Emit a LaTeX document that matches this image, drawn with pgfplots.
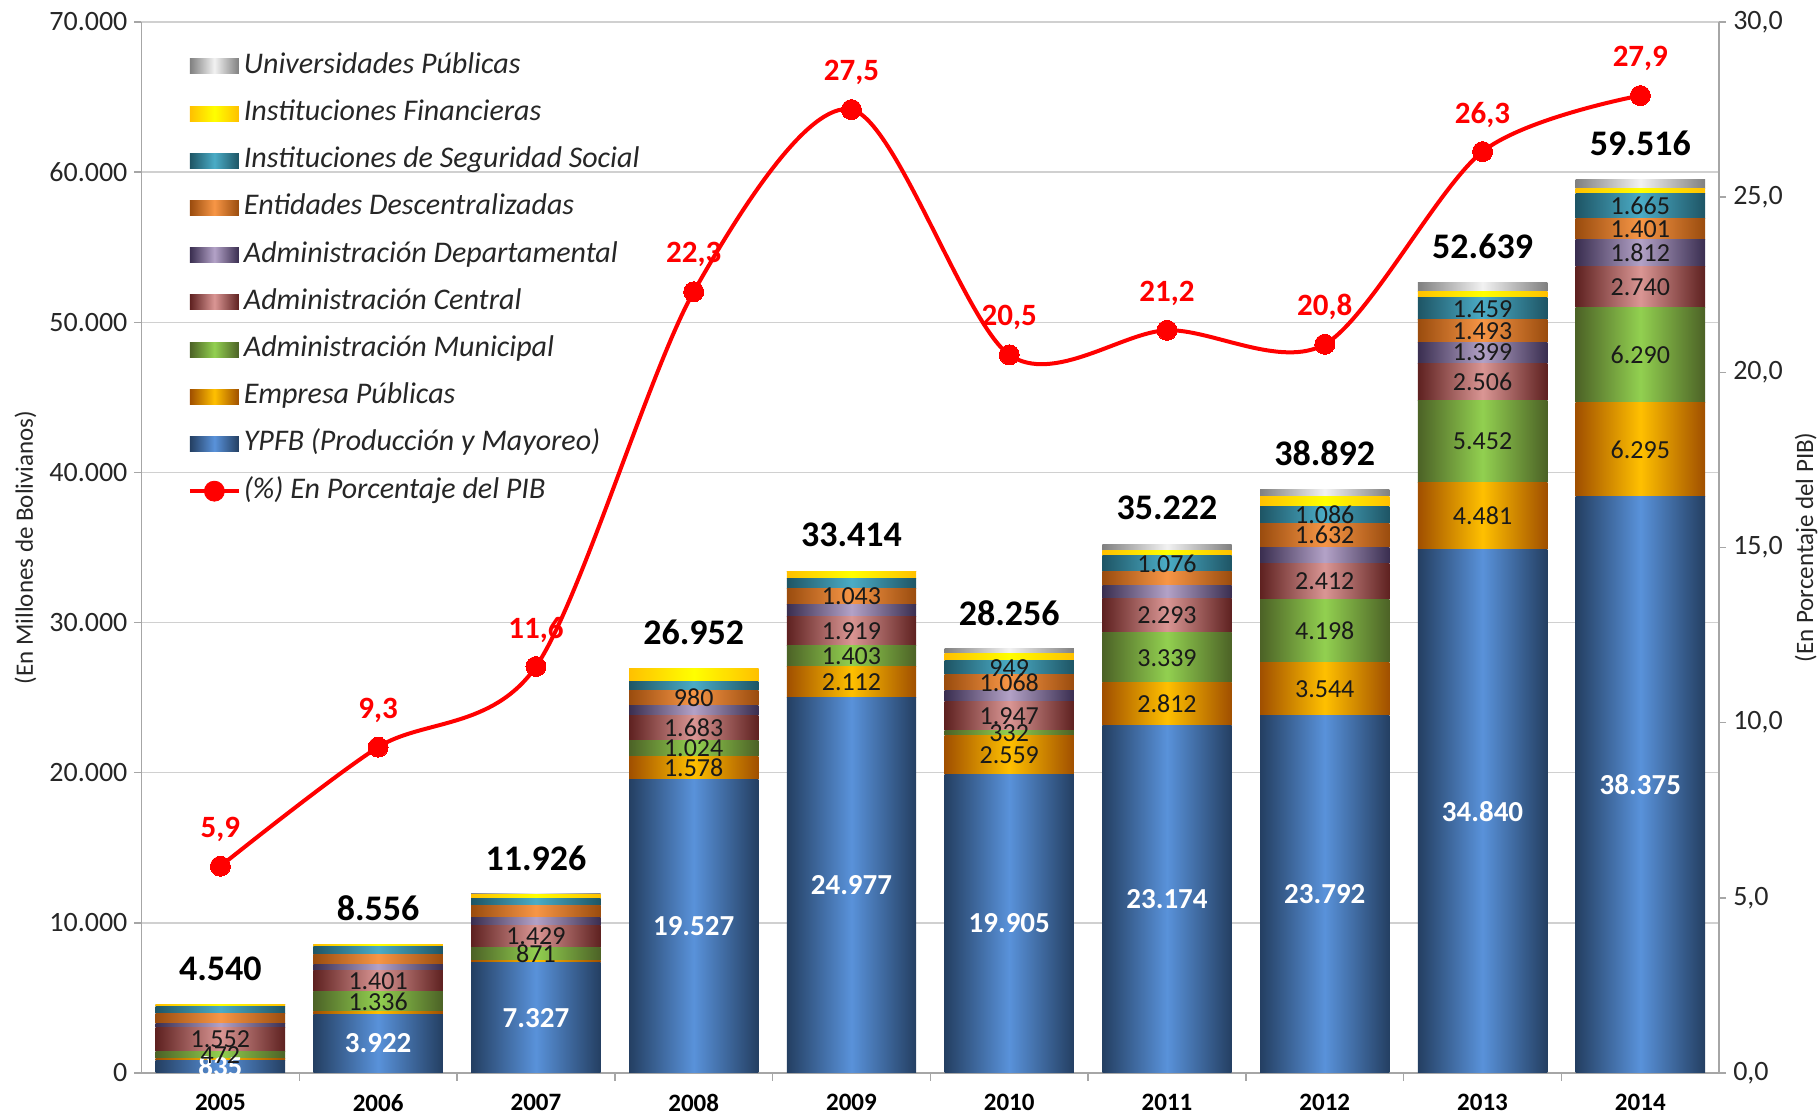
\documentclass[border=0pt]{standalone}
\usepackage{fontspec}
\setmainfont{Carlito}
\usepackage{pgfplots}
\usepackage{pgfplotstable}
\pgfplotsset{compat=1.18}

\definecolor{ypD}{HTML}{243F62}
\definecolor{ypL}{HTML}{5992DA}
\definecolor{emD}{HTML}{A04F00}
\definecolor{emL}{HTML}{FFC000}
\definecolor{muD}{HTML}{4C6226}
\definecolor{muL}{HTML}{92D050}
\definecolor{ceD}{HTML}{5E2120}
\definecolor{ceL}{HTML}{DA9694}
\definecolor{deD}{HTML}{3A2E50}
\definecolor{deL}{HTML}{B3A2C7}
\definecolor{enD}{HTML}{9A4C0E}
\definecolor{enL}{HTML}{F79646}
\definecolor{seD}{HTML}{1E5565}
\definecolor{seL}{HTML}{4BACC6}
\definecolor{fiD}{HTML}{FFC000}
\definecolor{fiL}{HTML}{FFFF00}
\definecolor{unD}{HTML}{808080}
\definecolor{unL}{HTML}{F2F2F2}
\definecolor{gridc}{HTML}{D0D0D0}
\definecolor{axc}{HTML}{A6A6A6}
\definecolor{txt}{HTML}{262626}
\definecolor{lblc}{HTML}{1A1A1A}

\newcommand\AxW{788.9pt}
\newcommand\AxH{525.5pt}

\pgfplotsset{
  /pgf/number format/assume math mode=true,
  grad/.style n args={2}{draw=none, left color=#1, right color=#1, middle color=#2},
  sw/.style n args={2}{legend image code/.code={\path[draw=none, left color=#1, right color=#1, middle color=#2] (0pt,-3.75pt) rectangle (24.5pt,3.75pt);}},
  common/.style={scale only axis, width=\AxW, height=\AxH, xmin=-0.5, xmax=9.5, ymin=0, ymax=70000},
}

\pgfplotstableread{
x ypfb emp mun cen dep ent seg fin uni
0 835 150 472 1552 290 640 470 116 15
1 3922 160 1336 1401 390 700 500 132 15
2 7327 170 871 1429 560 790 490 274 15
3 19527 1578 1024 1683 690 980 570 885 15
4 24977 2112 1403 1919 800 1043 690 455 15
5 19905 2559 332 1947 700 1068 949 466 330
6 23174 2812 3339 2293 880 880 1076 330 438
7 23792 3544 4198 2412 1050 1632 1086 665 513
8 34840 4481 5452 2506 1399 1493 1459 409 600
9 38375 6295 6290 2740 1812 1401 1665 340 598
}\bars

\begin{document}
\begin{tikzpicture}
% frame, grid, ticks and legend
\begin{axis}[
  common,
  xtick={0,...,9},
  xticklabels={2005,2006,2007,2008,2009,2010,2011,2012,2013,2014},
  minor xtick={0.5,1.5,...,8.5},
  major x tick style={draw=none},
  minor tick length=4pt, major tick length=3.5pt,
  tick align=outside,
  tick style={axc, line width=0.75pt},
  axis x line*=bottom, axis y line*=left,
  axis line style={axc, line width=0.75pt},
  ytick={0,10000,...,70000},
  scaled y ticks=false,
  yticklabel style={font=\fontsize{14}{16}\selectfont, text=txt, /pgf/number format/1000 sep={.}, /pgf/number format/fixed},
  xticklabel style={font=\fontsize{12.5}{14}\selectfont\bfseries, text=black, yshift=-3.5pt},
  ymajorgrids, major grid style={gridc, line width=0.75pt},
  ylabel={(En Millones de Bolivianos)},
  every axis y label/.style={at={(axis description cs:-0.0735,0.5)}, rotate=90, anchor=center, font=\fontsize{12.5}{14}\selectfont, text=txt},
  reverse legend,
  legend cell align=left,
  legend style={at={(0,1)}, anchor=north west, xshift=23pt, yshift=-14pt, draw=none, fill=none,
    font=\fontsize{15}{16}\selectfont\itshape, row sep=7.6pt, inner sep=0pt,
    nodes={inner sep=1.5pt, text height=10pt, text depth=3pt, text=txt}},
]
\coordinate (bbsw) at (rel axis cs:0,0);
\coordinate (bbne) at (rel axis cs:1,1);
\addlegendimage{legend image code/.code={\draw[red, line width=2pt] (0pt,0pt) -- (24.5pt,0pt); \fill[red] (12.25pt,0pt) circle (5pt);}}
\addlegendentry{(\%) En Porcentaje del PIB}
\addlegendimage{sw={ypD}{ypL}}
\addlegendentry{YPFB (Producción y Mayoreo)}
\addlegendimage{sw={emD}{emL}}
\addlegendentry{Empresa Públicas}
\addlegendimage{sw={muD}{muL}}
\addlegendentry{Administración Municipal}
\addlegendimage{sw={ceD}{ceL}}
\addlegendentry{Administración Central}
\addlegendimage{sw={deD}{deL}}
\addlegendentry{Administración Departamental}
\addlegendimage{sw={enD}{enL}}
\addlegendentry{Entidades Descentralizadas}
\addlegendimage{sw={seD}{seL}}
\addlegendentry{Instituciones de Seguridad Social}
\addlegendimage{sw={fiD}{fiL}}
\addlegendentry{Instituciones Financieras}
\addlegendimage{sw={unD}{unL}}
\addlegendentry{Universidades Públicas}
\end{axis}

% stacked bars, one axis per year so each bar gets its own gradient
\pgfplotsinvokeforeach{0,...,9}{
\begin{axis}[common, hide axis, ybar stacked, bar width=0.82, restrict x to domain=#1:#1]
\addplot[grad={ypD}{ypL}] table[x=x, y=ypfb]{\bars};
\addplot[grad={emD}{emL}] table[x=x, y=emp]{\bars};
\addplot[grad={muD}{muL}] table[x=x, y=mun]{\bars};
\addplot[grad={ceD}{ceL}] table[x=x, y=cen]{\bars};
\addplot[grad={deD}{deL}] table[x=x, y=dep]{\bars};
\addplot[grad={enD}{enL}] table[x=x, y=ent]{\bars};
\addplot[grad={seD}{seL}] table[x=x, y=seg]{\bars};
\addplot[grad={fiD}{fiL}] table[x=x, y=fin]{\bars};
\addplot[grad={unD}{unL}] table[x=x, y=uni]{\bars};
\end{axis}
}

% value labels
\begin{axis}[
  common, hide axis, clip=false,
  nodes near coords, point meta=explicit symbolic,
  every node near coord/.append style={anchor=center},
]
\addplot[draw=none, mark=none, every node near coord/.append style={font=\fontsize{14.5}{16}\selectfont\bfseries, text=white}] coordinates {
(0,417.5)[835] (1,1961)[3.922] (2,3663.5)[7.327] (3,9763.5)[19.527] (4,12488.5)[24.977]
(5,9952.5)[19.905] (6,11587)[23.174] (7,11896)[23.792] (8,17420)[34.840] (9,19187.5)[38.375]};
\addplot[draw=none, mark=none, every node near coord/.append style={font=\fontsize{13}{15}\selectfont, text=lblc}] coordinates {
(0,1221)[472] (0,2233)[1.552]
(1,4750)[1.336] (1,6118.5)[1.401]
(2,7932.5)[871] (2,9082.5)[1.429]
(3,20316)[1.578] (3,21617)[1.024] (3,22970.5)[1.683] (3,24992)[980]
(4,26033)[2.112] (4,27790.5)[1.403] (4,29451.5)[1.919] (4,31732.5)[1.043]
(5,21184.5)[2.559] (5,22630)[332] (5,23769.5)[1.947] (5,25977)[1.068] (5,26985.5)[949]
(6,24580)[2.812] (6,27655.5)[3.339] (6,30471.5)[2.293] (6,33916)[1.076]
(7,25564)[3.544] (7,29435)[4.198] (7,32740)[2.412] (7,35812)[1.632] (7,37171)[1.086]
(8,37080.5)[4.481] (8,42047)[5.452] (8,46026)[2.506] (8,47978.5)[1.399] (8,49424.5)[1.493] (8,50900.5)[1.459]
(9,41522.5)[6.295] (9,47815)[6.290] (9,52330)[2.740] (9,54606)[1.812] (9,56212.5)[1.401] (9,57745.5)[1.665]};
\addplot[draw=none, mark=none, every node near coord/.append style={font=\fontsize{18}{20}\selectfont\bfseries, text=black, yshift=18pt}] coordinates {
(0,4540)[4.540] (1,8556)[8.556] (2,11926)[11.926] (3,26952)[26.952] (4,33414)[33.414]
(5,28256)[28.256] (6,35222)[35.222] (7,38892)[38.892] (8,52639)[52.639] (9,59516)[59.516]};
\end{axis}

% percentage line
\begin{axis}[
  scale only axis, width=\AxW, height=\AxH,
  xmin=-0.5, xmax=9.5, ymin=0, ymax=30,
  axis y line*=right, axis x line=none, xtick=\empty,
  ytick={0,5,...,30},
  tick align=outside, major tick length=3.5pt,
  tick style={axc, line width=0.75pt},
  axis line style={axc, line width=0.75pt},
  yticklabel style={font=\fontsize{14}{16}\selectfont, text=txt, /pgf/number format/fixed, /pgf/number format/fixed zerofill, /pgf/number format/precision=1, /pgf/number format/use comma},
  ylabel={(En Porcentaje del PIB)},
  every axis y label/.style={at={(axis description cs:1.0551,0.5)}, rotate=90, anchor=center, font=\fontsize{12.5}{14}\selectfont, text=txt},
  clip=false,
]
\addplot[red, line width=2pt, smooth, mark=*, mark size=5pt, mark options={fill=red, draw=red, line width=0pt},
  nodes near coords={\pgfmathprintnumber[fixed, fixed zerofill, precision=1, use comma]{\pgfplotspointmeta}},
  point meta=y,
  every node near coord/.append style={anchor=center, yshift=18.5pt, font=\fontsize{15.5}{17}\selectfont\bfseries, text=red}]
coordinates {(0,5.9) (1,9.3) (2,11.6) (3,22.3) (4,27.5) (5,20.5) (6,21.2) (7,20.8) (8,26.3) (9,27.9)};
\end{axis}

\pgfresetboundingbox
\path[use as bounding box] ([shift={(-70.75pt,-21pt)}]bbsw) rectangle ([shift={(49.9pt,11pt)}]bbne);
\end{tikzpicture}
\end{document}
